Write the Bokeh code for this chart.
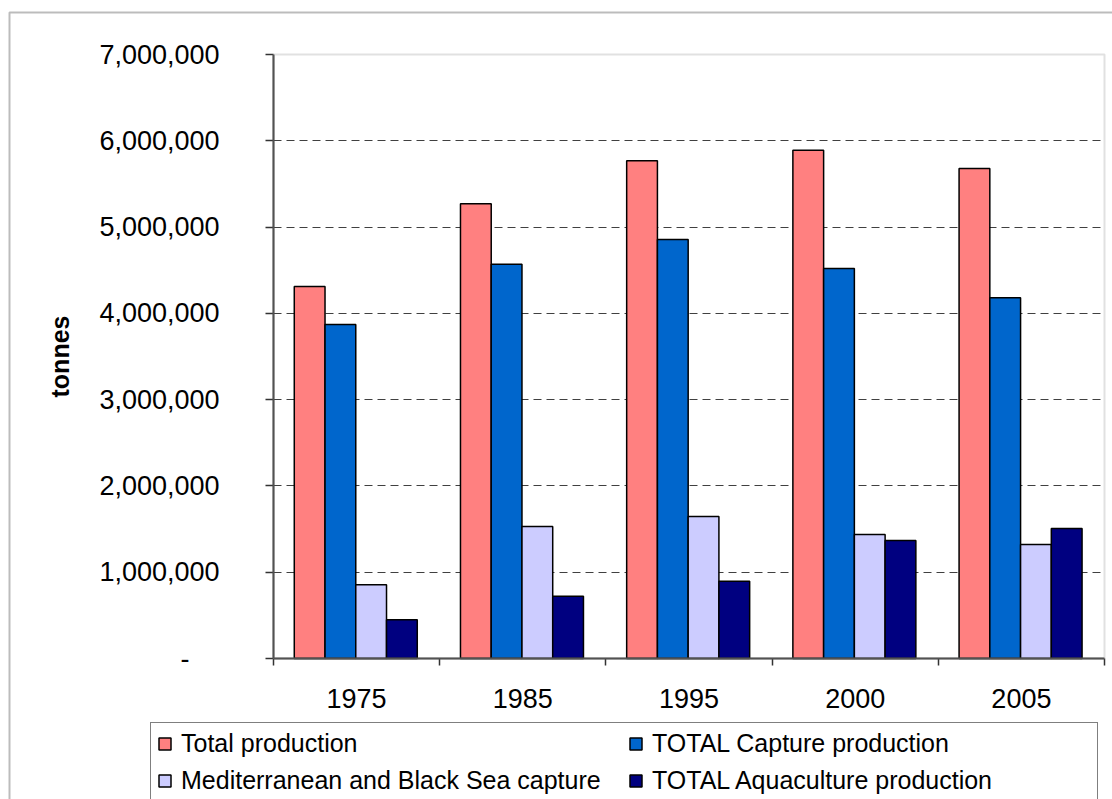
from bokeh.plotting import figure
from bokeh.models import (ColumnDataSource, FixedTicker, NumeralTickFormatter, Legend,
                          LegendItem, BoxAnnotation, Range1d, LinearAxis)
from bokeh.embed import file_html
from bokeh.resources import INLINE

years = ["1975", "1985", "1995", "2000", "2005"]
total_production = [4310000, 5270000, 5770000, 5890000, 5680000]
capture_production = [3870000, 4570000, 4855000, 4520000, 4180000]
med_black_sea_capture = [855000, 1530000, 1645000, 1437000, 1320000]
aquaculture_production = [448000, 720000, 896000, 1367000, 1506000]
y_ticks = [0, 1000000, 2000000, 3000000, 4000000, 5000000, 6000000, 7000000]

series_names = ["Total production", "TOTAL Capture production",
                "Mediterranean and Black Sea capture", "TOTAL Aquaculture production"]
series_values = [total_production, capture_production, med_black_sea_capture, aquaculture_production]
colors = ["#FF8080", "#0066CC", "#CCCCFF", "#000080"]

FONT = "Liberation Sans"
W, H = 1112, 799
# plot-area placement in canvas pixels
PL, PR, PT, PB = 273, 1104, 54, 658
n = len(years)
ymax = y_ticks[-1]
xu = (PR - PL) / n            # px per category
yu = (PB - PT) / ymax         # px per tonne

p = figure(width=W, height=H, output_backend="svg", toolbar_location=None,
           x_axis_location=None, y_axis_location=None,
           x_range=Range1d(-PL / xu, n + (W - PR) / xu),
           y_range=Range1d(-(H - PB) / yu, ymax + PT / yu),
           min_border_left=0, min_border_right=0, min_border_top=0, min_border_bottom=0)
p.background_fill_color = "white"
p.border_fill_color = "white"
p.outline_line_color = None

bar_w = 0.185
idx = list(range(n))
renderers = []
for k, (name, vals, col) in enumerate(zip(series_names, series_values, colors)):
    off = 0.495 + (k - 1.5) * bar_w
    src = ColumnDataSource(dict(x=[i + off for i in idx], top=vals))
    r = p.vbar(x="x", top="top", width=bar_w, bottom=0, source=src,
               fill_color=col, line_color="black", line_width=1.5)
    renderers.append((name, r))

# grid (only inside the plot area)
p.xgrid.visible = False
p.ygrid.ticker = FixedTicker(ticks=y_ticks[1:-1])
p.ygrid.cross_bounds = (0, n)
p.ygrid.grid_line_color = "#404040"
p.ygrid.grid_line_dash = "8 5"
p.ygrid.grid_line_width = 1

# plot-area border (grey top/right)
p.add_layout(BoxAnnotation(left=0, right=n, bottom=0, top=ymax, fill_alpha=0,
                           line_color="#9a9a9a", line_width=2))

# y axis
ya = LinearAxis(fixed_location=0, bounds=(0, ymax))
ya.ticker = FixedTicker(ticks=y_ticks)
ya.formatter = NumeralTickFormatter(format="0,0")
ya.major_label_overrides = {0: "-" + "\u00a0" * 4}
ya.major_label_text_font = FONT
ya.major_label_text_font_size = "27px"
ya.major_label_text_color = "black"
ya.major_tick_out = 8
ya.major_tick_in = 0
ya.minor_tick_out = 0
ya.minor_tick_in = 0
ya.major_label_standoff = 46
ya.axis_line_color = "#333333"
ya.axis_line_width = 2
ya.major_tick_line_color = "#333333"
ya.major_tick_line_width = 1.5
ya.axis_label = "tonnes"
ya.axis_label_text_font = FONT
ya.axis_label_text_font_size = "25px"
ya.axis_label_text_font_style = "bold"
ya.axis_label_text_color = "black"
ya.axis_label_standoff = 22
p.add_layout(ya, "left")

# x axis
xa = LinearAxis(fixed_location=0, bounds=(0, n))
xa.ticker = FixedTicker(ticks=[i + 0.5 for i in idx], minor_ticks=list(range(0, n + 1)))
xa.major_label_overrides = {i + 0.5: y for i, y in zip(idx, years)}
xa.major_label_text_font = FONT
xa.major_label_text_font_size = "27px"
xa.major_label_text_color = "black"
xa.major_tick_out = 0
xa.major_tick_in = 0
xa.minor_tick_out = 7
xa.minor_tick_in = 0
xa.minor_tick_line_color = "#333333"
xa.minor_tick_line_width = 1.5
xa.major_label_standoff = 23
xa.axis_line_color = "#333333"
xa.axis_line_width = 2
p.add_layout(xa, "below")

# legend (column-major fill: left column Total / Med, right column Capture / Aquaculture)
legend_order = [0, 2, 1, 3]
legend = Legend(items=[LegendItem(label=renderers[i][0], renderers=[renderers[i][1]])
                       for i in legend_order],
                location=(150, -3), ncols=2)
legend.label_text_font = FONT
legend.label_text_font_size = "25px"
legend.label_text_color = "black"
legend.glyph_width = 15
legend.glyph_height = 15
legend.label_standoff = 9
legend.label_width = 439
legend.spacing = 8
legend.padding = 6
legend.margin = 0
legend.border_line_color = "black"
legend.border_line_width = 1
legend.background_fill_color = "white"
legend.background_fill_alpha = 1
p.add_layout(legend)

# outer chart border
border = BoxAnnotation(left=9, right=1200, top=12, bottom=900,
                       left_units="canvas", right_units="canvas",
                       top_units="canvas", bottom_units="canvas",
                       fill_alpha=0, line_color="#222222", line_width=2)
p.add_layout(border)

open("out.html", "w").write(file_html(p, INLINE))
